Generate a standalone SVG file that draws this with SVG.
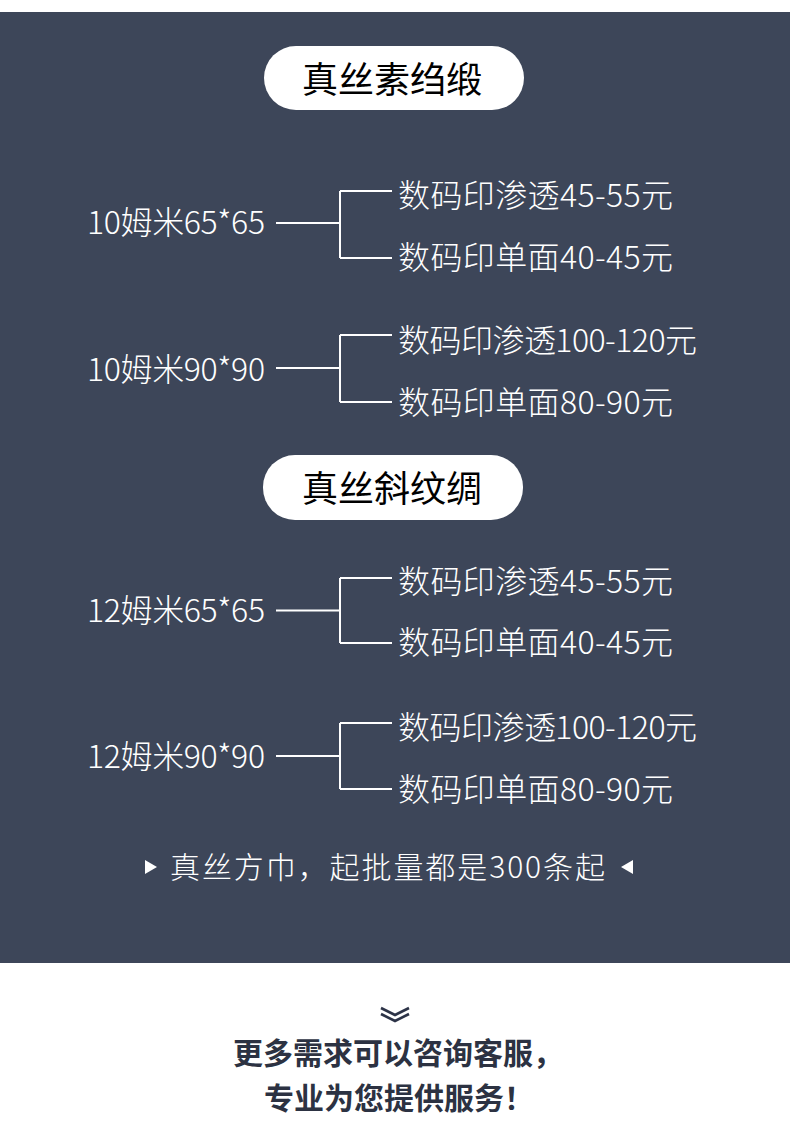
<svg xmlns="http://www.w3.org/2000/svg" width="790" height="1135" viewBox="0 0 790 1135">
<style>
.lbl{font-family:"Noto Sans CJK SC","Liberation Sans",sans-serif;font-weight:300;font-size:32px;fill:#ffffff}
.pill{fill:#ffffff}
.ptxt{font-family:"Noto Sans CJK SC","Liberation Sans",sans-serif;font-weight:400;font-size:36px;fill:#000000;text-anchor:middle}
.conn{fill:none;stroke:#ffffff;stroke-width:2}
.note{font-family:"Noto Sans CJK SC","Liberation Sans",sans-serif;font-weight:300;font-size:30px;fill:#ffffff}
.bold{font-family:"Noto Sans CJK SC","Liberation Sans",sans-serif;font-weight:700;font-size:30px;fill:#2c3242;text-anchor:middle}
</style>
<rect x="0" y="0" width="790" height="1135" fill="#ffffff"/>
<rect x="0" y="12" width="790" height="951" fill="#3d4659"/>

<g id="header1">
<rect class="pill" x="264" y="46" width="260" height="64" rx="32"/>
<text class="ptxt" x="392" y="93">真丝素绉缎</text>
</g>
<g id="header2">
<rect class="pill" x="263" y="455" width="260" height="65" rx="32"/>
<text class="ptxt" x="392" y="502">真丝斜纹绸</text>
</g>

<g id="connectors">
<path class="conn" d="M276 223H340M340 191V258M340 191H392M340 258H392"/>
<path class="conn" d="M276 368H340M340 335V402M340 335H392M340 402H392"/>
<path class="conn" d="M276 610.5H340M340 578V643M340 578H392M340 643H392"/>
<path class="conn" d="M276 756H340M340 723V789M340 723H392M340 789H392"/>
</g>

<g id="g1">
<text class="lbl" x="87" y="234" textLength="178" lengthAdjust="spacing">10姆米65*65</text>
<text class="lbl" x="398" y="207" textLength="275" lengthAdjust="spacing">数码印渗透45-55元</text>
<text class="lbl" x="398" y="269" textLength="275" lengthAdjust="spacing">数码印单面40-45元</text>
</g>
<g id="g2">
<text class="lbl" x="87" y="381" textLength="178" lengthAdjust="spacing">10姆米90*90</text>
<text class="lbl" x="398" y="352" textLength="299" lengthAdjust="spacing">数码印渗透100-120元</text>
<text class="lbl" x="398" y="414" textLength="275" lengthAdjust="spacing">数码印单面80-90元</text>
</g>
<g id="g3">
<text class="lbl" x="87" y="622" textLength="178" lengthAdjust="spacing">12姆米65*65</text>
<text class="lbl" x="398" y="593" textLength="275" lengthAdjust="spacing">数码印渗透45-55元</text>
<text class="lbl" x="398" y="654" textLength="275" lengthAdjust="spacing">数码印单面40-45元</text>
</g>
<g id="g4">
<text class="lbl" x="87" y="768" textLength="178" lengthAdjust="spacing">12姆米90*90</text>
<text class="lbl" x="398" y="739" textLength="299" lengthAdjust="spacing">数码印渗透100-120元</text>
<text class="lbl" x="398" y="801" textLength="275" lengthAdjust="spacing">数码印单面80-90元</text>
</g>

<g id="note">
<polygon points="145,860 157,867 145,874" fill="#ffffff"/>
<text class="note" x="170" y="878" textLength="435" lengthAdjust="spacing">真丝方巾，起批量都是300条起</text>
<polygon points="633,860 621,867 633,874" fill="#ffffff"/>
</g>

<g id="footer">
<path d="M381 1008L395 1015L409 1008M381 1014L395 1021L409 1014" fill="none" stroke="#2c3347" stroke-width="2.6"/>
<text class="bold" x="398" y="1064">更多需求可以咨询客服，</text>
<text class="bold" x="399" y="1109">专业为您提供服务！</text>
</g>
</svg>
